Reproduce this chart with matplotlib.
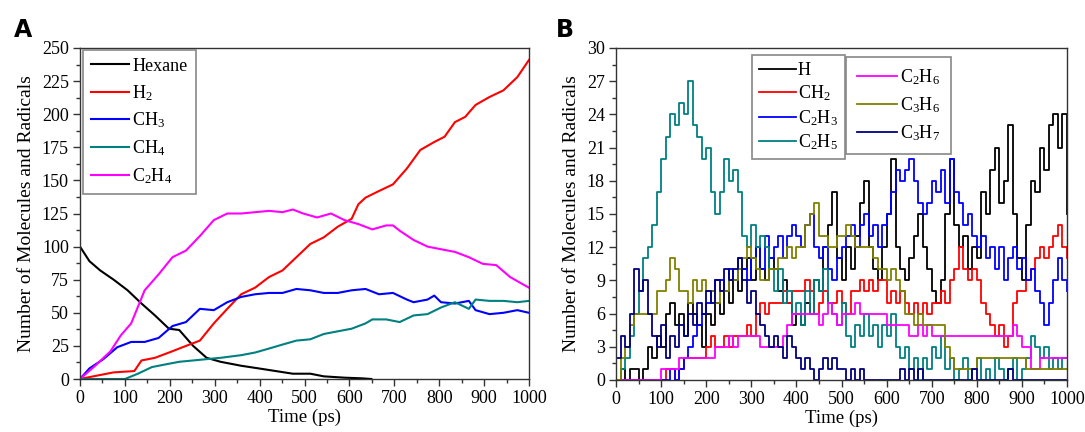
import numpy as np
import matplotlib
matplotlib.use("Agg")
import matplotlib.pyplot as plt
from matplotlib.ticker import MultipleLocator

plt.rcParams['font.family'] = ['Liberation Serif', 'DejaVu Serif']
plt.rcParams['mathtext.fontset'] = 'custom'
plt.rcParams['mathtext.rm'] = 'Liberation Serif'
plt.rcParams['mathtext.it'] = 'Liberation Serif:italic'

# ---------------- Panel A data (time in ps, counts) ----------------
hex_t = [0, 21, 45, 75, 106, 137, 167, 198, 221, 252, 282, 313, 359, 398, 436, 474, 513, 543, 589, 628, 649]
hex_v = [100, 89, 82, 75, 67, 57, 48, 38, 37, 25, 16, 13, 10, 8, 6, 4, 4, 2, 1, 0.5, 0]

h2_t = [0, 37, 75, 121, 137, 167, 206, 236, 267, 298, 328, 359, 390, 421, 451, 482, 513, 543, 574, 605,
        620, 636, 666, 697, 728, 758, 789, 812, 835, 858, 881, 912, 943, 974, 1000]
h2_v = [0, 2.5, 5, 6, 14, 16, 21, 25, 29, 42, 53, 64, 69, 77, 82, 92, 102, 107, 115, 121,
        132, 137, 142, 147, 159, 173, 179, 183, 194, 198, 207, 213, 218, 228, 241]

ch3_t = [0, 21, 52, 83, 114, 144, 175, 206, 236, 267, 298, 328, 359, 390, 421, 451, 482, 513, 543, 574,
         605, 636, 666, 697, 728, 743, 774, 789, 804, 835, 866, 881, 912, 943, 974, 1000]
ch3_v = [0, 8, 15, 24, 28, 28, 31, 40, 43, 53, 52, 58, 62, 64, 65, 65, 68, 67, 65, 65,
         67, 68, 64, 65, 60, 58, 60, 63, 58, 57, 59, 52, 49, 50, 52, 50]

ch4_t = [0, 100, 129, 160, 190, 221, 252, 282, 313, 359, 390, 421, 451, 482, 513, 543, 574, 605, 636, 651,
         682, 712, 743, 774, 804, 835, 866, 881, 912, 943, 974, 1000]
ch4_v = [0, 0, 4, 9, 11, 13, 14, 15, 16, 18, 20, 23, 26, 29, 30, 34, 36, 38, 42, 45,
         45, 43, 48, 49, 54, 58, 53, 60, 59, 59, 58, 59]

c2h4_t = [0, 37, 68, 91, 114, 144, 175, 206, 236, 267, 298, 328, 359, 390, 421, 451, 474, 497, 528, 559,
          589, 620, 651, 682, 697, 712, 743, 774, 804, 835, 866, 897, 927, 958, 989, 1000]
c2h4_v = [0, 11, 21, 33, 42, 67, 79, 92, 97, 108, 120, 125, 125, 126, 127, 126, 128, 125, 122, 125,
          120, 117, 113, 116, 116, 112, 105, 100, 98, 96, 92, 87, 86, 77, 71, 69]

a_labels = ['Hexane', r'H$_2$', r'CH$_3$', r'CH$_4$', r'C$_2$H$_4$']
a_colors = ['black', '#FF0000', '#0000FF', '#008080', '#FF00FF']

# ---------------- Panel B data (every 10 ps, 0..1000) ----------------
b_time = list(range(0, 1001, 10))
h_v = [0, 1, 0, 1, 1, 0, 1, 3, 2, 4,
       3, 6, 7, 5, 6, 4, 7, 6, 5, 3,
       6, 5, 7, 6, 8, 7, 9, 8, 10, 11,
       9, 12, 10, 9, 11, 10, 8, 9, 7, 5,
       6, 5, 7, 6, 9, 8, 12, 14, 17, 11,
       9, 12, 10, 13, 16, 18, 12, 10, 9, 12,
       15, 20, 12, 10, 9, 11, 13, 15, 12, 10,
       8, 7, 9, 15, 20, 14, 12, 13, 10, 12,
       11, 17, 15, 19, 21, 16, 18, 23, 15, 11,
       9, 14, 18, 17, 21, 19, 23, 24, 21, 24,
       15]
ch2_v = [0, 0, 0, 0, 0, 0, 0, 0, 0, 0,
         0, 1, 1, 0, 1, 2, 2, 2, 2, 2,
         3, 4, 3, 3, 4, 3, 4, 4, 4, 5,
         4, 6, 7, 6, 7, 7, 7, 8, 7, 8,
         8, 8, 9, 8, 6, 7, 8, 7, 7, 8,
         7, 6, 8, 8, 9, 8, 9, 8, 9, 9,
         7, 8, 7, 8, 7, 6, 7, 6, 7, 6,
         7, 7, 8, 7, 9, 10, 12, 10, 9, 10,
         9, 7, 6, 5, 4, 5, 3, 4, 7, 8,
         8, 9, 10, 11, 12, 11, 12, 13, 14, 12,
         11]
c2h3_v = [0, 0, 0, 0, 0, 0, 0, 0, 0, 0,
          0, 0, 1, 0, 1, 2, 3, 4, 5, 6,
          7, 8, 9, 9, 8, 10, 9, 11, 10, 9,
          11, 12, 10, 13, 11, 12, 13, 11, 13, 14,
          13, 12, 14, 15, 12, 11, 12, 10, 9, 11,
          12, 13, 14, 12, 14, 15, 13, 14, 12, 14,
          15, 17, 19, 18, 19, 20, 18, 16, 15, 16,
          18, 17, 19, 16, 20, 17, 16, 14, 15, 13,
          12, 13, 11, 12, 10, 12, 9, 11, 12, 10,
          11, 9, 10, 8, 7, 5, 7, 9, 11, 9,
          8]
c2h5_v = [0, 1, 2, 4, 6, 8, 11, 12, 14, 17,
          20, 22, 24, 23, 25, 24, 27, 23, 22, 20,
          21, 17, 15, 17, 20, 18, 19, 17, 13, 12,
          14, 12, 13, 12, 10, 8, 10, 7, 8, 6,
          7, 5, 8, 6, 9, 8, 10, 7, 6, 5,
          7, 4, 3, 5, 4, 6, 4, 5, 3, 5,
          4, 6, 3, 2, 3, 1, 2, 0, 2, 1,
          3, 2, 4, 1, 2, 0, 1, 2, 0, 1,
          2, 0, 1, 0, 2, 1, 0, 1, 2, 0,
          1, 2, 4, 3, 2, 3, 1, 2, 1, 2,
          2]
c2h6_v = [0, 0, 0, 0, 0, 0, 0, 0, 0, 0,
          1, 1, 1, 1, 2, 2, 2, 2, 2, 2,
          2, 2, 3, 3, 3, 4, 3, 4, 4, 4,
          4, 4, 3, 3, 3, 3, 3, 4, 5, 6,
          6, 6, 6, 6, 6, 5, 6, 7, 6, 5,
          6, 6, 6, 7, 6, 6, 6, 6, 6, 6,
          5, 5, 5, 5, 5, 4, 4, 5, 4, 5,
          4, 4, 4, 4, 4, 4, 4, 4, 4, 4,
          4, 4, 4, 4, 4, 4, 4, 4, 5, 4,
          3, 3, 1, 1, 2, 2, 2, 2, 2, 2,
          2]
c3h6_v = [0, 2, 3, 5, 6, 6, 6, 6, 6, 8,
          8, 9, 11, 10, 8, 8, 7, 9, 8, 9,
          8, 8, 7, 8, 8, 9, 9, 10, 11, 12,
          11, 10, 9, 9, 10, 10, 11, 11, 12, 11,
          12, 12, 14, 15, 16, 13, 13, 12, 12, 13,
          13, 14, 13, 12, 12, 12, 12, 11, 10, 10,
          9, 10, 9, 8, 6, 6, 5, 6, 5, 5,
          5, 5, 5, 3, 2, 1, 1, 1, 1, 1,
          2, 2, 2, 2, 2, 2, 2, 2, 2, 2,
          2, 1, 1, 1, 1, 1, 1, 1, 1, 1,
          1]
c3h7_v = [2, 4, 3, 6, 10, 8, 9, 6, 4, 3,
          5, 2, 4, 3, 5, 4, 6, 5, 7, 6,
          8, 7, 9, 8, 10, 9, 10, 11, 9, 7,
          8, 6, 5, 4, 3, 4, 3, 2, 4, 3,
          2, 1, 2, 1, 0, 1, 2, 1, 2, 1,
          1, 0, 1, 0, 1, 0, 0, 0, 0, 0,
          0, 0, 0, 1, 0, 1, 0, 1, 0, 0,
          0, 0, 0, 0, 0, 0, 0, 0, 0, 1,
          0, 0, 0, 0, 0, 0, 0, 1, 0, 0,
          0, 0, 0, 0, 0, 0, 0, 0, 0, 0,
          0]
b_labels = ['H', r'CH$_2$', r'C$_2$H$_3$', r'C$_2$H$_5$', r'C$_2$H$_6$', r'C$_3$H$_6$', r'C$_3$H$_7$']
b_colors = ['black', '#FF0000', '#0000FF', '#008080', '#FF00FF', '#808000', '#000080']

# ---------------- Figure ----------------
fig = plt.figure(figsize=(10.85, 4.32), dpi=100)
axA = fig.add_axes([80/1085, 53/432, 449/1085, 331/432])
axB = fig.add_axes([616/1085, 52/432, 451/1085, 332/432])

def style(ax):
    for s in ax.spines.values():
        s.set_linewidth(1.0)
        s.set_color('#333333')
    ax.tick_params(which='both', direction='out', top=False, right=False, labelsize=13,
                   color='#333333', pad=3)
    ax.tick_params(which='major', length=5, width=1)
    ax.tick_params(which='minor', length=3, width=1)
    ax.set_xlabel('Time (ps)', fontsize=13.5, labelpad=1)
    ax.set_ylabel('Number of Molecules and Radicals', fontsize=14, labelpad=5)

def frame(leg):
    f = leg.get_frame()
    f.set_linewidth(1.2)
    f.set_edgecolor('#888888')

# Panel A
a_series = [(hex_t, hex_v), (h2_t, h2_v), (ch3_t, ch3_v), (ch4_t, ch4_v), (c2h4_t, c2h4_v)]
for (t, v), lab, col in zip(a_series, a_labels, a_colors):
    axA.plot(t, v, color=col, lw=1.5, label=lab)
axA.set_xlim(0, 1000)
axA.set_ylim(0, 250)
axA.xaxis.set_major_locator(MultipleLocator(100))
axA.xaxis.set_minor_locator(MultipleLocator(50))
axA.yaxis.set_major_locator(MultipleLocator(25))
axA.yaxis.set_minor_locator(MultipleLocator(12.5))
style(axA)
legA = axA.legend(loc='upper left', bbox_to_anchor=(0.006, 0.995), borderaxespad=0,
                  fontsize=13, handlelength=2.1, handletextpad=0.2, labelspacing=0.45,
                  fancybox=False, framealpha=1, borderpad=0.45)
frame(legA)

# Panel B
b_series = [h_v, ch2_v, c2h3_v, c2h5_v, c2h6_v, c3h6_v, c3h7_v]
lines = []
for v, lab, col in zip(b_series, b_labels, b_colors):
    ln, = axB.plot(b_time, v, color=col, lw=1.3, drawstyle='steps-post', label=lab)
    lines.append(ln)
axB.set_xlim(0, 1000)
axB.set_ylim(0, 30)
axB.xaxis.set_major_locator(MultipleLocator(100))
axB.xaxis.set_minor_locator(MultipleLocator(50))
axB.yaxis.set_major_locator(MultipleLocator(3))
axB.yaxis.set_minor_locator(MultipleLocator(1.5))
style(axB)
legB1 = axB.legend(handles=lines[:4], loc='upper left', bbox_to_anchor=(0.302, 0.979), borderaxespad=0,
                   fontsize=13, handlelength=2.0, handletextpad=0.12, labelspacing=0.25,
                   fancybox=False, framealpha=1, borderpad=0.4)
frame(legB1)
axB.add_artist(legB1)
legB2 = axB.legend(handles=lines[4:], loc='upper left', bbox_to_anchor=(0.51, 0.973), borderaxespad=0,
                   fontsize=13, handlelength=2.2, handletextpad=0.2, labelspacing=0.45,
                   fancybox=False, framealpha=1, borderpad=0.6)
frame(legB2)

fig.text(14/1085, 1 - 37/432, 'A', fontsize=17, fontweight='bold', family='DejaVu Sans')
fig.text(556/1085, 1 - 37/432, 'B', fontsize=17, fontweight='bold', family='DejaVu Sans')

fig.savefig('out.png', dpi=100)
